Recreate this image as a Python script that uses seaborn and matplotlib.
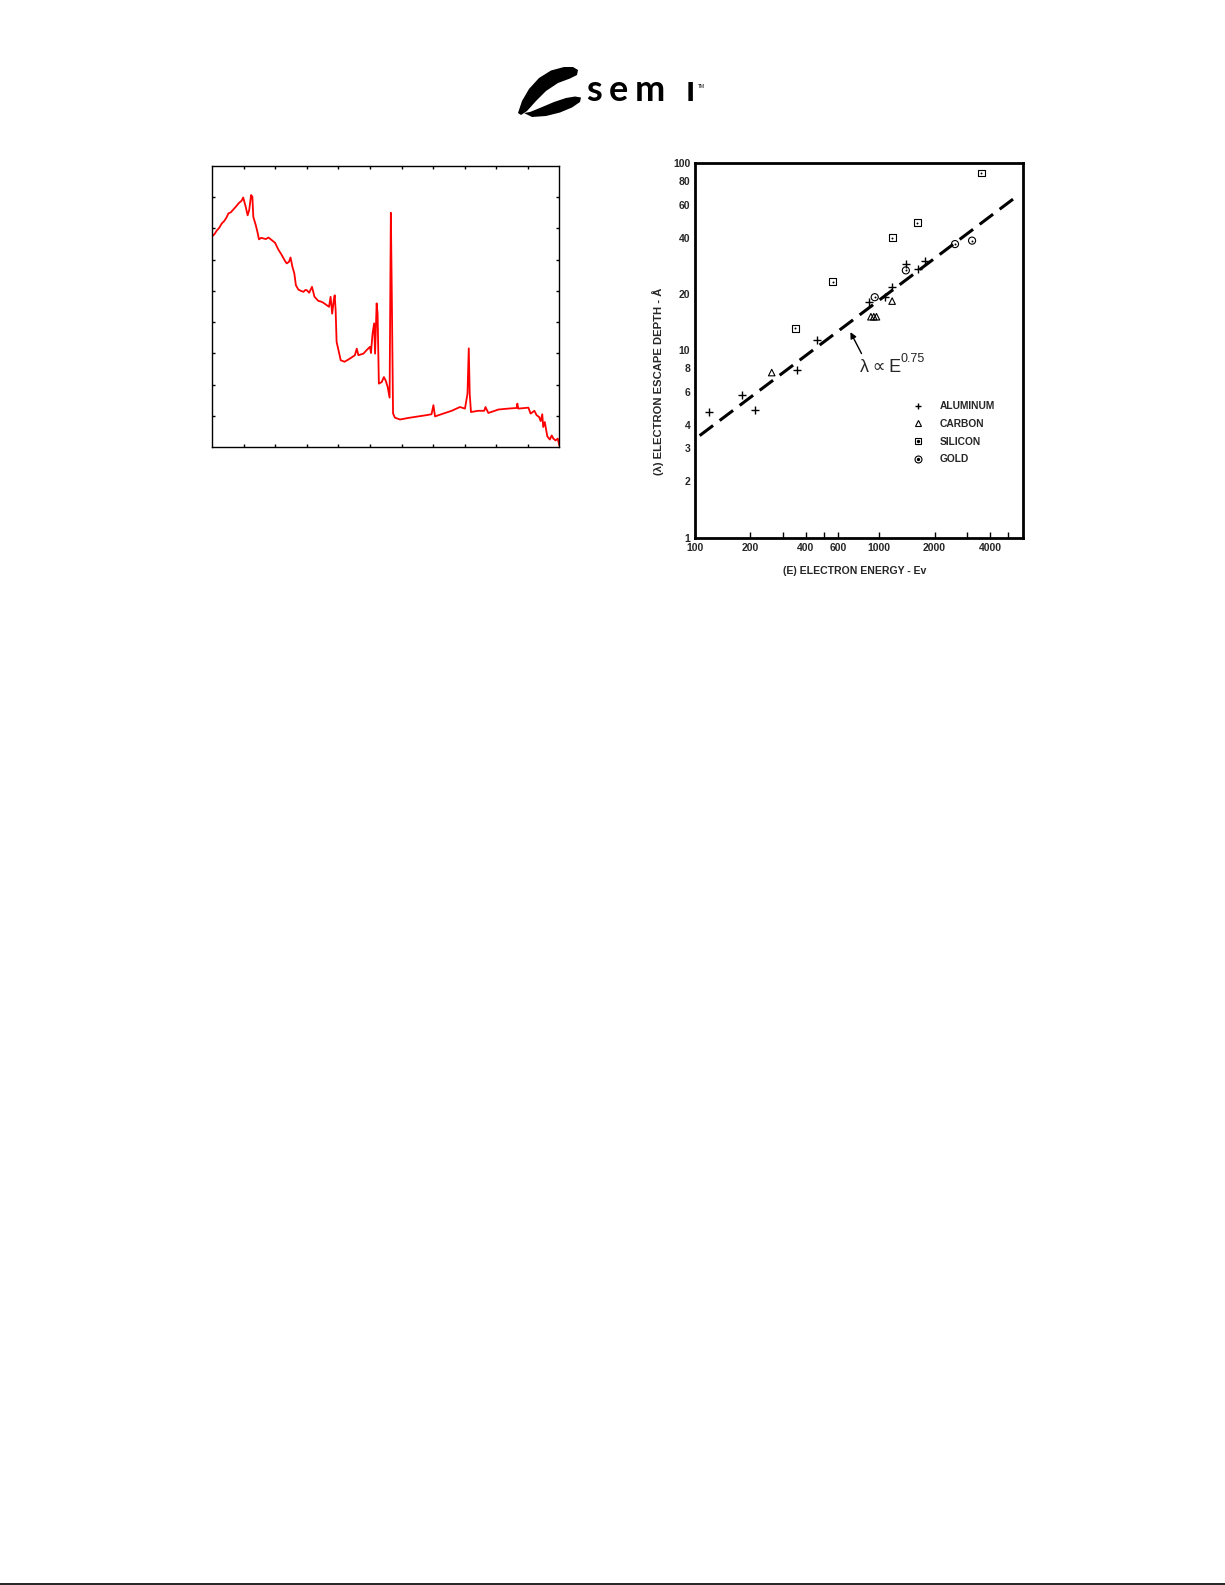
import pandas as pd
import seaborn as sns
import matplotlib.pyplot as plt
from matplotlib.lines import Line2D
from matplotlib.patches import Polygon
from matplotlib.ticker import NullFormatter

sns.set_theme(style="white")
plt.rcParams['font.family'] = ['Liberation Sans', 'DejaVu Sans']

# left panel: spectrum trace (unlabelled axes)
spec_x = [0.00, 0.07, 0.14, 0.22, 0.30, 0.38, 0.45, 0.51, 0.59, 0.67, 0.75, 0.83, 0.93, 0.98,
          1.06, 1.12, 1.17, 1.23, 1.27, 1.30, 1.38, 1.43, 1.48, 1.55, 1.62, 1.70, 1.78, 1.88,
          1.99, 2.09, 2.20, 2.31, 2.36, 2.43, 2.48, 2.54, 2.60, 2.65, 2.73, 2.81, 2.89, 2.95,
          3.00, 3.07, 3.16, 3.24, 3.36, 3.44, 3.52, 3.63, 3.70, 3.75, 3.80, 3.85, 3.88, 3.91,
          3.94, 4.00, 4.07, 4.19, 4.31, 4.42, 4.52, 4.58, 4.63, 4.79, 4.89, 5.00, 5.03, 5.08,
          5.13, 5.16, 5.21, 5.24, 5.28, 5.37, 5.44, 5.50, 5.56, 5.62, 5.66, 5.69, 5.73, 5.79,
          5.95, 6.21, 6.53, 6.79, 6.95, 7.01, 7.06, 7.32, 7.59, 7.85, 8.01, 8.09, 8.13, 8.16,
          8.20, 8.43, 8.62, 8.66, 8.75, 9.07, 9.38, 9.65, 9.67, 9.70, 10.02, 10.09, 10.21, 10.28,
          10.36, 10.41, 10.46, 10.49, 10.54, 10.62, 10.70, 10.76, 10.81, 10.88, 10.95, 11.00]
spec_y = [6.75, 6.82, 6.93, 7.02, 7.16, 7.24, 7.35, 7.48, 7.52, 7.61, 7.70, 7.80, 7.89, 7.99,
          7.69, 7.42, 7.59, 8.07, 8.02, 7.37, 7.10, 6.89, 6.65, 6.70, 6.68, 6.66, 6.71, 6.63,
          6.54, 6.33, 6.15, 5.95, 5.88, 5.93, 6.07, 5.77, 5.56, 5.18, 5.04, 5.00, 4.97, 5.03,
          5.02, 4.94, 5.13, 4.81, 4.68, 4.66, 4.62, 4.54, 4.49, 4.81, 4.27, 4.70, 4.86, 4.38,
          3.37, 3.10, 2.78, 2.73, 2.80, 2.87, 2.94, 3.15, 2.94, 2.99, 3.10, 3.21, 3.01, 3.63,
          3.96, 2.99, 4.60, 4.27, 2.03, 2.08, 2.24, 2.12, 1.92, 1.58, 7.50, 4.92, 1.07, 0.94,
          0.88, 0.93, 0.98, 1.02, 1.05, 1.34, 0.98, 1.07, 1.16, 1.28, 1.23, 1.71, 3.16, 1.71,
          1.12, 1.16, 1.16, 1.28, 1.09, 1.20, 1.23, 1.25, 1.39, 1.23, 1.26, 1.07, 1.16, 1.02,
          0.96, 0.83, 1.05, 0.64, 0.80, 0.34, 0.24, 0.37, 0.27, 0.21, 0.27, 0.05]

# right panel: electron escape depth vs energy
al_energy = [119, 181, 212, 360, 461, 883, 1075, 1176, 1406, 1628, 1782]
al_depth = [4.67, 5.74, 4.81, 7.81, 11.3, 18.2, 19.2, 21.8, 28.9, 27.0, 30.0]
c_energy = [261, 902, 935, 967, 1176]
c_depth = [7.6, 15.1, 15.1, 15.1, 18.3]
si_energy = [351, 558, 1176, 1607, 3589]
si_depth = [13.1, 23.2, 40.0, 48.1, 88.4]
au_energy = [946, 1396, 2581, 3195]
au_depth = [19.2, 26.7, 36.9, 38.5]
fit_energy = [106, 5330]
fit_depth = [3.5, 64.1]

x_ticks = [100, 200, 400, 600, 1000, 2000, 4000]
x_minor = [300, 500, 3000, 5000]
y_ticks = [1, 2, 3, 4, 6, 8, 10, 20, 40, 60, 80, 100]
materials = ['ALUMINUM', 'CARBON', 'SILICON', 'GOLD']

W, H = 1225, 1585
fig = plt.figure(figsize=(W / 100, H / 100), dpi=100)


def frac(x0, y0, x1, y1):
    return [x0 / W, 1 - y1 / H, (x1 - x0) / W, (y1 - y0) / H]


# ---- logo ----
blade = [(518, 113), (522, 101), (529, 89), (539, 78), (551, 70.5), (564, 67), (573, 67),
         (578, 70), (577, 75), (570, 78.5), (558, 83), (546, 91), (536, 101), (527, 111),
         (521, 115)]
hook = [(524, 113), (532, 117), (546, 116), (560, 112.5), (572, 107.5), (580, 102),
        (581, 97.5), (575, 96.5), (566, 98), (554, 102), (541, 107.5), (530, 112)]
for pts in (blade, hook):
    fig.add_artist(Polygon([(px / W, 1 - py / H) for px, py in pts], closed=True,
                           transform=fig.transFigure, color='black', lw=0))
for ch, cx in zip(['s', 'e', 'm', 'ı'], [594, 618, 650, 690]):
    fig.text(cx / W, 1 - 101 / H, ch, ha='center', va='baseline', fontsize=26,
             family='Lato', fontweight='bold', color='black')
fig.text(698 / W, 1 - 88 / H, 'TM', fontsize=3.5, color='black', va='baseline')

# ---- left spectrum ----
ax1 = fig.add_axes(frac(212.3, 166, 559.3, 447))
sns.lineplot(x=spec_x, y=spec_y, ax=ax1, color='#ff0000', linewidth=1.3,
             sort=False, estimator=None)
ax1.set_xlim(0, 11)
ax1.set_ylim(0, 9)
ax1.set_xticks(range(1, 11))
ax1.set_yticks(range(1, 9))
ax1.tick_params(direction='in', length=2.5, width=1, color='black',
                bottom=True, top=True, left=True, right=True,
                labelbottom=False, labelleft=False)
for s in ax1.spines.values():
    s.set_color('black')
    s.set_linewidth(1)

# ---- right log-log plot ----
ax2 = fig.add_axes(frac(695, 163, 1023, 537.5))
sns.lineplot(x=fit_energy, y=fit_depth, ax=ax2, color='black', linewidth=2.2,
             linestyle=(0, (5.5, 2.7)))
sns.scatterplot(x=al_energy, y=al_depth, ax=ax2, marker='+', color='black', s=30, linewidth=1)
sns.scatterplot(x=c_energy, y=c_depth, ax=ax2, marker='^', facecolor='none',
                edgecolor='black', s=22, linewidth=0.8)
sns.scatterplot(x=si_energy, y=si_depth, ax=ax2, marker='s', facecolor='none',
                edgecolor='black', s=24, linewidth=0.8)
sns.scatterplot(x=si_energy, y=si_depth, ax=ax2, marker='o', color='black', s=2, linewidth=0)
sns.scatterplot(x=au_energy, y=au_depth, ax=ax2, marker='o', facecolor='none',
                edgecolor='black', s=26, linewidth=0.8)
sns.scatterplot(x=au_energy, y=au_depth, ax=ax2, marker='o', color='black', s=2, linewidth=0)

ax2.set_xscale('log')
ax2.set_yscale('log')
ax2.set_xlim(100, 6040)
ax2.set_ylim(1, 100)
ax2.set_xticks(x_ticks, labels=[str(v) for v in x_ticks])
ax2.set_xticks(x_minor, minor=True)
ax2.set_yticks(y_ticks, labels=[str(v) for v in y_ticks])
ax2.set_yticks([], minor=True)
ax2.xaxis.set_minor_formatter(NullFormatter())
ax2.tick_params(axis='x', which='both', direction='in', length=4.5, width=1, color='black',
                bottom=True, top=False, pad=4, labelsize=7.5)
ax2.tick_params(axis='y', which='both', direction='in', length=0, left=True, right=False,
                pad=3.5, labelsize=7.5)
for lab in ax2.get_xticklabels() + ax2.get_yticklabels():
    lab.set_fontweight('bold')
for s in ax2.spines.values():
    s.set_color('black')
    s.set_linewidth(2)

ax2.set_xlabel('(E) ELECTRON ENERGY - Ev', fontsize=7.6, fontweight='bold')
ax2.set_ylabel('(λ) ELECTRON ESCAPE DEPTH - Å', fontsize=8.1, fontweight='bold')
ax2.xaxis.set_label_coords(0.488, -0.077)
ax2.yaxis.set_label_coords(-0.095, 0.417)

ax2.annotate('', xy=(698, 12.5), xytext=(802, 9.6),
             arrowprops=dict(arrowstyle='-|>', color='black', lw=1,
                             mutation_scale=9, shrinkA=0, shrinkB=0))
lam = ax2.text(785, 7.66, 'λ\u2009∝\u2009E', fontsize=13, ha='left', va='baseline',
               family=['Liberation Sans', 'DejaVu Sans'])
ax2.annotate('0.75', xy=(1, 0.62), xycoords=lam, xytext=(0, 0), textcoords='offset points',
             fontsize=9, ha='left', va='bottom', family='Liberation Sans')

handles = [
    Line2D([], [], marker='+', ls='none', color='black', markersize=5, mew=1),
    Line2D([], [], marker='^', ls='none', mfc='none', mec='black', markersize=4.6, mew=0.8),
    (Line2D([], [], marker='s', ls='none', mfc='none', mec='black', markersize=4.8, mew=0.8),
     Line2D([], [], marker='o', ls='none', color='black', markersize=1.4)),
    (Line2D([], [], marker='o', ls='none', mfc='none', mec='black', markersize=5.0, mew=0.8),
     Line2D([], [], marker='o', ls='none', color='black', markersize=1.4)),
]
ax2.legend(handles, materials, loc='upper left', bbox_to_anchor=(0.665, 0.364),
           frameon=False, handlelength=1.0, handletextpad=1.6, labelspacing=0.75,
           borderpad=0, borderaxespad=0, prop=dict(weight='bold', size=7.4))

# page rule at the bottom
fig.add_artist(Line2D([0, 1], [1 - 1584 / H, 1 - 1584 / H], transform=fig.transFigure,
                      color='black', lw=1.2))

fig.savefig('out.png', dpi=100, facecolor='white')
